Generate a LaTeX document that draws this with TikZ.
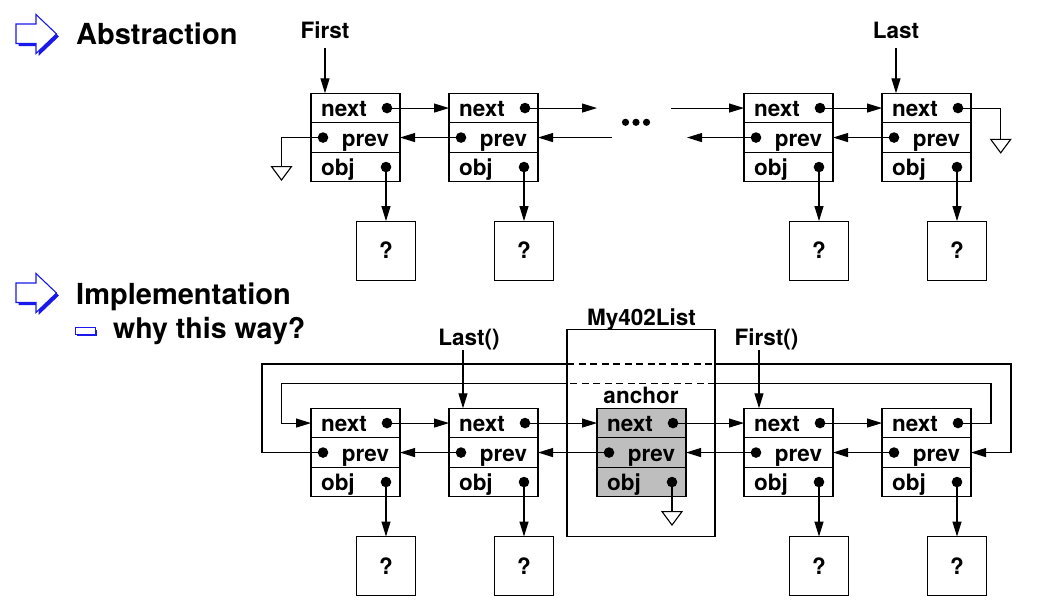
\documentclass[tikz,border=0pt]{standalone}
\usepackage{fontspec}
\newfontfamily\hv{TeX Gyre Heros}
\usetikzlibrary{arrows.meta}
\definecolor{hblue}{RGB}{25,25,235}
\definecolor{anchgray}{RGB}{190,190,190}
\newcommand\cellfont{\hv\bfseries\fontsize{22.5pt}{26pt}\selectfont}
\newcommand\headfont{\hv\bfseries\fontsize{29pt}{34pt}\selectfont}
\newcommand\subfont{\hv\bfseries\fontsize{28.5pt}{32pt}\selectfont}
\tikzset{
  cell/.style={draw, line width=1.1pt, minimum width=89pt, minimum height=29.5pt,
    inner ysep=0pt, outer sep=0pt, text height=17pt, text depth=0pt, font=\cellfont},
  txtl/.style={inner xsep=10pt, text width=69pt, align=left},
  txtr/.style={inner xsep=11pt, text width=67pt, align=right},
  qbox/.style={draw, line width=1.1pt, minimum size=59pt, inner sep=0pt, outer sep=0pt, font=\cellfont},
  lab/.style={font=\cellfont, inner sep=0pt},
  conn/.style={line width=1.1pt},
  arr/.style={line width=1.1pt, -{Triangle[length=15pt,width=9pt]}},
  gnd/.style={line width=1.1pt, fill=white},
  dsh/.style={line width=1.1pt, dash pattern=on 7pt off 4.5pt},
}
\newcommand\mkbox[4]{%
  \node[cell, fill=#4, anchor=north west, txtl] (#1n) at (#2,#3) {next};
  \node[cell, fill=#4, anchor=north, txtr] (#1p) at (#1n.south) {prev};
  \node[cell, fill=#4, anchor=north, txtl] (#1o) at (#1p.south) {obj};
  \coordinate (#1nd) at ([xshift=-13pt]#1n.east);
  \coordinate (#1pd) at ([xshift=12pt]#1p.west);
  \coordinate (#1od) at ([xshift=-14pt]#1o.east);
  \fill (#1nd) circle (5.3pt);
  \fill (#1pd) circle (5.3pt);
  \fill (#1od) circle (5.3pt);
}
\newcommand\groundsym[1]{%
  \draw[gnd] ([xshift=-10pt]#1) -- ([xshift=10pt]#1) -- ([yshift=-13.5pt]#1) -- cycle;}
\newcommand\headarrow[1]{%
  \begin{scope}[yshift=#1]
  \fill[hblue] (18.5,26.5) -- (38.5,26.5) -- (38.5,17) -- (59,36.5) -- (38.5,56) -- (38.5,46) -- (18.5,46) -- cycle;
  \filldraw[fill=white, draw=hblue, line width=1.1pt] (16,24) -- (36,24) -- (36,14.5) -- (56.5,34) -- (36,53.5) -- (36,43.5) -- (16,43.5) -- cycle;
  \end{scope}}
\begin{document}
\begin{tikzpicture}[x=1pt,y=-1pt]
\useasboundingbox (0,0) rectangle (1042,608);
% headings
\headarrow{0pt}
\node[anchor=base west, font=\headfont, inner sep=0pt] (habs) at (76,44) {Abstraction};
\headarrow{-259pt}
\node[anchor=base west, font=\headfont, inner sep=0pt] (himp) at (76,304) {Implementation};
\fill[hblue] (77,329.5) rectangle (97,336);
\filldraw[fill=white, draw=hblue, line width=1pt] (75,327.3) rectangle (95,334);
\node[anchor=base west, font=\subfont, inner sep=0pt] (hwhy) at (113,338) {why this way?};

% ===== abstraction =====
\mkbox{a1}{311}{93.3}{white}
\mkbox{a2}{449}{93.3}{white}
\mkbox{a3}{744}{93.3}{white}
\mkbox{a4}{882}{93.3}{white}
\node[lab, anchor=base] (first) at (325,38) {First};
\node[lab, anchor=base] (last) at (896,38) {Last};
\coordinate (fa) at ([xshift=14pt]a1n.north west);
\coordinate (la) at ([xshift=14pt]a4n.north west);
\draw[arr] ([yshift=-10pt]first.base) -- (fa);
\draw[arr] ([yshift=-10pt]last.base) -- (la);
% next chain
\coordinate (e1) at ([xshift=59pt]a2n.east);
\coordinate (s1) at ([xshift=-73pt]a3n.west);
\draw[arr] (a1nd) -- (a2n.west);
\draw[arr] (a2nd) -- (e1);
\draw[arr] (s1) -- (a3n.west);
\draw[arr] (a3nd) -- (a4n.west);
% prev chain
\coordinate (s2) at ([xshift=74pt]a2p.east);
\coordinate (e2) at ([xshift=-57pt]a3p.west);
\draw[arr] (a2pd) -- (a1p.east);
\draw[arr] (s2) -- (a2p.east);
\draw[arr] (a3pd) -- (e2);
\draw[arr] (a4pd) -- (a3p.east);
% ellipsis
\fill (625.5,122.3) circle (3.6pt) (636,122.3) circle (3.6pt) (646.5,122.3) circle (3.6pt);
% grounds
\coordinate (g1) at ([xshift=-29.5pt,yshift=-29pt]a1p.west);
\draw[conn] (a1pd) -| (g1);
\groundsym{g1}
\coordinate (g2) at ([xshift=29.7pt,yshift=-31.3pt]a4n.east);
\draw[conn] (a4nd) -| (g2);
\groundsym{g2}
% objects
\foreach \b in {a1,a2,a3,a4}{
  \node[qbox, anchor=north] (q\b) at ([yshift=-54pt]\b od) {?};
  \draw[arr] (\b od) -- (q\b.north);
}

% ===== implementation =====
\node[draw, line width=1.1pt, minimum width=148pt, minimum height=207.4pt, anchor=north west, inner sep=0pt, outer sep=0pt] (lst) at (567,329.3) {};
\node[lab, anchor=base] (lstlab) at (641.5,325) {My402List};
\mkbox{b1}{311}{408.3}{white}
\mkbox{b2}{449}{408.3}{white}
\mkbox{b3}{597}{408.3}{anchgray}
\mkbox{b4}{744}{408.3}{white}
\mkbox{b5}{882}{408.3}{white}
\node[lab, anchor=base] (anch) at (641,403.3) {anchor};
\node[lab, anchor=base] (lastf) at (469,345) {Last()};
\node[lab, anchor=base] (firstf) at (766.5,345) {First()};
\coordinate (lfa) at ([xshift=14pt]b2n.north west);
\coordinate (ffa) at ([xshift=15pt]b4n.north west);
\draw[arr] (lfa |- 0,350) -- (lfa);
\draw[arr] (ffa |- 0,350) -- (ffa);
% next / prev chains
\draw[arr] (b1nd) -- (b2n.west);
\draw[arr] (b2nd) -- (b3n.west);
\draw[arr] (b3nd) -- (b4n.west);
\draw[arr] (b4nd) -- (b5n.west);
\draw[arr] (b2pd) -- (b1p.east);
\draw[arr] (b3pd) -- (b2p.east);
\draw[arr] (b4pd) -- (b3p.east);
\draw[arr] (b5pd) -- (b4p.east);
% outer loop (prev of first -> last)
\coordinate (oTL) at (262,364);
\coordinate (oTR) at (1011,364);
\coordinate (mlo) at (lst.west |- oTL);
\coordinate (mro) at (lst.east |- oTL);
\draw[conn] (b1pd) -| (oTL) -- (mlo);
\draw[dsh] (mlo) -- (mro);
\draw[arr] (mro) -- (oTR) |- (b5p.east);
% inner loop (next of last -> first)
\coordinate (iTL) at (281.7,383.3);
\coordinate (iTR) at (991,383.3);
\coordinate (mli) at (lst.west |- iTL);
\coordinate (mri) at (lst.east |- iTL);
\draw[conn] (b5nd) -| (iTR) -- (mri);
\draw[dsh] (mri) -- (mli);
\draw[arr] (mli) -- (iTL) |- (b1n.west);
% anchor obj ground
\coordinate (g3) at ([yshift=-29.5pt]b3od);
\draw[conn] (b3od) -- (g3);
\groundsym{g3}
% objects
\foreach \b in {b1,b2,b4,b5}{
  \node[qbox, anchor=north] (q\b) at ([yshift=-54.5pt]\b od) {?};
  \draw[arr] (\b od) -- (q\b.north);
}
\end{tikzpicture}
\end{document}
